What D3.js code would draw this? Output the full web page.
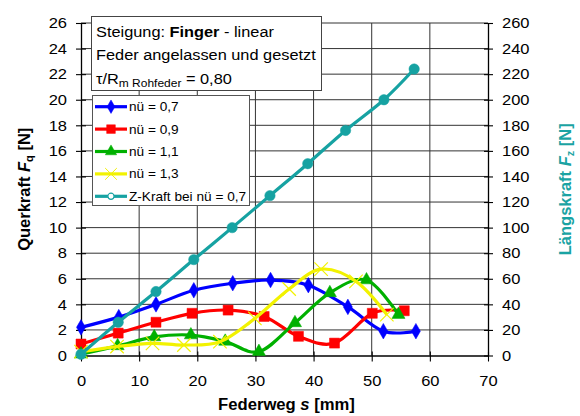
<!DOCTYPE html>
<html>
<head>
<meta charset="utf-8">
<script src="https://cdn.jsdelivr.net/npm/d3@7"></script>
<style>
  body { margin: 0; background: #fff; }
  svg { font-family: "Liberation Sans", Arial, sans-serif; }
</style>
</head>
<body>
<div id="chart"></div>
<script>
// Federweg s [mm] and Querkraft Fq [N] per series
var sBlue   = [0, 6.5, 12.9, 19.4, 26.1, 32.6, 39.1, 45.9, 52.0, 57.6];
var qBlue   = [2.2, 3.0, 4.0, 5.1, 5.65, 5.9, 5.5, 3.8, 1.9, 1.9];
var sRed    = [0, 6.4, 12.9, 19.1, 25.3, 31.5, 37.4, 43.6, 50.1, 55.6];
var qRed    = [0.9, 1.75, 2.6, 3.3, 3.55, 3.05, 1.5, 0.97, 3.3, 3.5];
var sGreen  = [0, 6.3, 12.6, 18.9, 24.8, 30.6, 36.8, 42.8, 49.1, 54.6];
var qGreen  = [0.1, 0.75, 1.45, 1.6, 1.1, 0.3, 2.55, 4.9, 5.9, 3.2];
var sYellow = [0, 6.2, 12.3, 17.7, 23.9, 29.9, 35.8, 41.3, 47.3, 52.6];
var qYellow = [0.3, 0.7, 0.95, 0.82, 1.08, 2.9, 5.2, 6.75, 5.8, 3.2];
// Längskraft Fz [N] (right axis)
var sTeal   = [0, 6.4, 12.9, 19.4, 26.0, 32.5, 39.0, 45.5, 52.1, 57.3];
var fTeal   = [1, 26, 50, 75, 100, 125, 150, 176, 200, 224];

var seriesNames = ["nü = 0,7", "nü = 0,9", "nü = 1,1", "nü = 1,3", "Z-Kraft bei nü = 0,7"];
var xTicks  = [0, 10, 20, 30, 40, 50, 60, 70];
var yTicks  = d3.range(0, 27, 2);
var y2Ticks = d3.range(0, 261, 20);

var pLeft = 81, pRight = 488, pTop = 23, pBottom = 355.5;

var svg = d3.select("#chart")
  .append("svg")
    .attr("width", 580)
    .attr("height", 416);

var x = d3.scaleLinear().domain([0, 70]).range([pLeft, pRight]);
var y = d3.scaleLinear().domain([0, 26]).range([pBottom, pTop]);
var y2 = d3.scaleLinear().domain([0, 260]).range([pBottom, pTop]);

// text in the picture is a bit wider than normal Arial
function widen(sel, sx) {
  sel.each(function() {
    var t = d3.select(this);
    var tx = +t.attr("x") || 0;
    t.attr("x", 0).attr("transform", "translate(" + tx + ",0) scale(" + sx + ",1)");
  });
}

// grid
svg.append("g").selectAll("line")
  .data(yTicks.slice(1))
  .enter().append("line")
    .attr("x1", pLeft).attr("x2", pRight)
    .attr("y1", function(d) { return y(d); })
    .attr("y2", function(d) { return y(d); })
    .attr("stroke", "#333").attr("stroke-width", 1);
svg.append("g").selectAll("line")
  .data(xTicks.slice(1, -1))
  .enter().append("line")
    .attr("y1", pTop).attr("y2", pBottom)
    .attr("x1", function(d) { return x(d); })
    .attr("x2", function(d) { return x(d); })
    .attr("stroke", "#333").attr("stroke-width", 1);

// axes
function styleAxis(g) {
  g.select(".domain").attr("stroke", "#000").attr("stroke-width", 1.3);
  g.selectAll(".tick line").attr("stroke", "#000").attr("stroke-width", 1.1);
  g.selectAll(".tick text").attr("font-size", "15px").attr("fill", "#000")
    .attr("font-family", "Liberation Sans, Arial, sans-serif")
    .call(widen, 1.1);
}

svg.append("g")
  .attr("transform", "translate(" + pLeft + ",0)")
  .call(d3.axisLeft(y).tickValues(yTicks).tickSizeInner(5).tickSizeOuter(0).tickPadding(9)
    .tickFormat(d3.format("d")))
  .call(styleAxis)
  .call(function(g) { g.selectAll(".tick line").attr("x2", 5).attr("x1", -5); });

svg.append("g")
  .attr("transform", "translate(" + pRight + ",0)")
  .call(d3.axisRight(y2).tickValues(y2Ticks).tickSizeInner(5).tickSizeOuter(0).tickPadding(9)
    .tickFormat(d3.format("d")))
  .call(styleAxis)
  .call(function(g) { g.selectAll(".tick line").attr("x2", 5).attr("x1", -4); });

svg.append("g")
  .attr("transform", "translate(0," + pBottom + ")")
  .call(d3.axisBottom(x).tickValues(xTicks).tickSizeInner(5).tickSizeOuter(0).tickPadding(15)
    .tickFormat(d3.format("d")))
  .call(styleAxis)
  .call(function(g) { g.selectAll(".tick line").attr("y2", 6).attr("y1", -4); });

// axis titles
var yt = svg.append("text")
  .attr("transform", "translate(30," + ((pTop + pBottom) / 2) + ") rotate(-90)")
  .attr("text-anchor", "middle")
  .attr("font-size", "16.5px").attr("font-weight", "bold").attr("fill", "#000");
yt.append("tspan").text("Querkraft ");
yt.append("tspan").attr("font-style", "italic").text("F");
yt.append("tspan").attr("font-size", "11px").attr("dy", 3).text("q");
yt.append("tspan").attr("dy", -3).text(" [N]");

var y2t = svg.append("text")
  .attr("transform", "translate(571," + ((pTop + pBottom) / 2) + ") rotate(-90)")
  .attr("text-anchor", "middle")
  .attr("font-size", "16.5px").attr("font-weight", "bold").attr("fill", "#1aa3a3");
y2t.append("tspan").text("Längskraft ");
y2t.append("tspan").attr("font-style", "italic").text("F");
y2t.append("tspan").attr("font-size", "11px").attr("dy", 3).text("z");
y2t.append("tspan").attr("dy", -3).text(" [N]");

var xt = svg.append("text")
  .attr("transform", "translate(" + ((pLeft + pRight) / 2 + 2) + ",410) scale(1.04,1)")
  .attr("text-anchor", "middle")
  .attr("font-size", "16px").attr("font-weight", "bold").attr("fill", "#000");
xt.append("tspan").text("Federweg ");
xt.append("tspan").attr("font-style", "italic").text("s");
xt.append("tspan").text(" [mm]");

// series
var series = [
  {s: sBlue,   v: qBlue,   y: y,  color: "#0000ff", sym: d3.symbolDiamond, size: 70,  fill: true},
  {s: sRed,    v: qRed,    y: y,  color: "#ff0000", sym: d3.symbolSquare,  size: 100, fill: true},
  {s: sGreen,  v: qGreen,  y: y,  color: "#00b000", sym: d3.symbolTriangle, size: 75, fill: true},
  {s: sYellow, v: qYellow, y: y,  color: "#f2f200", sym: d3.symbolX,       size: 120, fill: false},
  {s: sTeal,   v: fTeal,   y: y2, color: "#16a2a2", sym: d3.symbolCircle,  size: 85,  fill: true}
];

var line = d3.line().curve(d3.curveCatmullRom.alpha(0));

series.forEach(function(se) {
  var pts = se.s.map(function(s, i) { return [x(s), se.y(se.v[i])]; });
  svg.append("path")
    .attr("d", line(pts))
    .attr("fill", "none")
    .attr("stroke", se.color)
    .attr("stroke-width", 3.2)
    .attr("stroke-linejoin", "round");
  svg.append("g").selectAll("path")
    .data(pts)
    .enter().append("path")
      .attr("transform", function(d) { return "translate(" + d[0] + "," + d[1] + ")"; })
      .attr("d", d3.symbol().type(se.sym).size(se.size))
      .attr("fill", se.fill ? se.color : "none")
      .attr("stroke", se.color)
      .attr("stroke-width", se.fill ? 0.5 : 1.2);
});

// text box
var tb = svg.append("g");
tb.append("rect")
  .attr("x", 91.5).attr("y", 16.5).attr("width", 230).attr("height", 74)
  .attr("fill", "#fff").attr("stroke", "#444").attr("stroke-width", 1);
var t1 = tb.append("text").attr("x", 96).attr("y", 37).attr("font-size", "15px");
t1.append("tspan").text("Steigung: ");
t1.append("tspan").attr("font-weight", "bold").text("Finger");
t1.append("tspan").text(" - linear");
var t2 = tb.append("text").attr("x", 96).attr("y", 60).attr("font-size", "15px")
  .text("Feder angelassen und gesetzt");
var t3 = tb.append("text").attr("x", 96).attr("y", 84).attr("font-size", "15px");
t3.append("tspan").text("τ/R");
t3.append("tspan").attr("font-size", "11px").attr("dy", 3).text("m Rohfeder");
t3.append("tspan").attr("dy", -3).text(" = 0,80");
tb.selectAll("text").each(function() {
  var t = d3.select(this);
  t.attr("transform", "translate(" + t.attr("x") + "," + t.attr("y") + ") scale(1.09,1)")
    .attr("x", 0).attr("y", 0);
});

// legend
var lg = svg.append("g");
lg.append("rect")
  .attr("x", 92.5).attr("y", 95.5).attr("width", 157).attr("height", 110)
  .attr("fill", "#fff").attr("stroke", "#555").attr("stroke-width", 1);
series.forEach(function(se, i) {
  var cy = 106.7 + i * 22.4;
  lg.append("line")
    .attr("x1", 95).attr("x2", 127).attr("y1", cy).attr("y2", cy)
    .attr("stroke", se.color).attr("stroke-width", 3.2);
  lg.append("path")
    .attr("transform", "translate(111," + cy + ")")
    .attr("d", d3.symbol().type(se.sym).size(i == 4 ? 30 : se.size * 0.75))
    .attr("fill", i == 4 ? "#fff" : (se.fill ? se.color : "none"))
    .attr("stroke", se.color)
    .attr("stroke-width", i == 4 ? 1.2 : (se.fill ? 0.5 : 1));
  lg.append("text")
    .attr("transform", "translate(129," + (cy + 4.5) + ") scale(1.05,1)")
    .attr("font-size", "13px")
    .text(seriesNames[i]);
});
</script>
</body>
</html>
